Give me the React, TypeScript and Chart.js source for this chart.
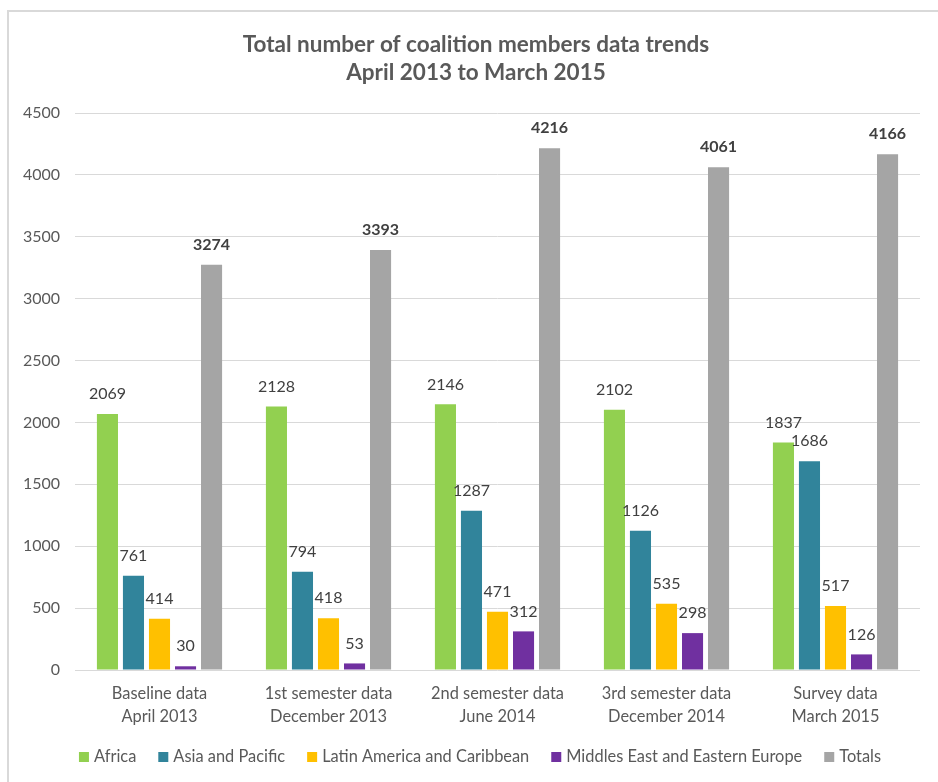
import React, { useEffect, useRef } from "react";
import { Chart, registerables } from "chart.js";

Chart.register(...registerables);

const titleLines = ["Total number of coalition members data trends", "April 2013 to March 2015"];

const categories: string[][] = [
  ["Baseline data", "April 2013"],
  ["1st semester data", "December 2013"],
  ["2nd semester data", "June 2014"],
  ["3rd semester data", "December 2014"],
  ["Survey data", "March 2015"],
];

const africa = [2069, 2128, 2146, 2102, 1837];
const asiaPacific = [761, 794, 1287, 1126, 1686];
const latinAmerica = [414, 418, 471, 535, 517];
const middleEast = [30, 53, 312, 298, 126];
const totals = [3274, 3393, 4216, 4061, 4166];

const seriesNames = [
  "Africa",
  "Asia and Pacific",
  "Latin America and Caribbean",
  "Middles East and Eastern Europe",
  "Totals",
];
const seriesColors = ["#92d050", "#31849b", "#ffc000", "#7030a0", "#a5a5a5"];

const yTicks = { min: 0, max: 4500, step: 500 };

const FONT = "Lato, 'Open Sans', sans-serif";

const valueLabels = {
  id: "valueLabels",
  afterDatasetsDraw(chart: any) {
    const ctx = chart.ctx;
    ctx.save();
    chart.data.datasets.forEach((ds: any, i: number) => {
      const meta = chart.getDatasetMeta(i);
      meta.data.forEach((bar: any, j: number) => {
        ctx.font = (i === 4 ? "bold " : "") + "16px " + FONT;
        ctx.fillStyle = "#404040";
        ctx.textAlign = "center";
        ctx.textBaseline = "middle";
        ctx.fillText(String(ds.data[j]), bar.x, bar.y - 20);
      });
    });
    ctx.restore();
  },
};

const customTitle = {
  id: "customTitle",
  afterDraw(chart: any) {
    const ctx = chart.ctx;
    ctx.save();
    ctx.font = "bold 22.5px " + FONT;
    ctx.fillStyle = "#595959";
    ctx.textAlign = "center";
    ctx.textBaseline = "middle";
    titleLines.forEach((t, i) => ctx.fillText(t, 476, 45 + i * 28));
    ctx.restore();
  },
};

const customLegend = {
  id: "customLegend",
  afterDraw(chart: any) {
    const ctx = chart.ctx;
    ctx.save();
    ctx.font = "16.4px " + FONT;
    const box = 10;
    const gap = 5;
    const spacing = 22;
    const items = chart.data.datasets.map((ds: any) => ({
      label: ds.label,
      color: ds.backgroundColor,
      w: ctx.measureText(ds.label).width,
    }));
    const total =
      items.reduce((s: number, it: any) => s + box + gap + it.w, 0) +
      spacing * (items.length - 1);
    let x = 480 - total / 2;
    const y = chart.height - 25;
    items.forEach((it: any) => {
      ctx.fillStyle = it.color;
      ctx.fillRect(x, y - box / 2, box, box);
      ctx.fillStyle = "#595959";
      ctx.textAlign = "left";
      ctx.textBaseline = "middle";
      ctx.fillText(it.label, x + box + gap, y);
      x += box + gap + it.w + spacing;
    });
    ctx.restore();
  },
};

export default function App() {
  const ref = useRef<HTMLCanvasElement | null>(null);

  useEffect(() => {
    if (!ref.current) return;
    const series = [africa, asiaPacific, latinAmerica, middleEast, totals];
    const chart = new Chart(ref.current, {
      type: "bar",
      data: {
        labels: categories,
        datasets: series.map((d, i) => ({
          label: seriesNames[i],
          data: d,
          backgroundColor: seriesColors[i],
          borderWidth: 0,
          barPercentage: 0.81,
          categoryPercentage: 0.77,
        })),
      },
      options: {
        animation: false,
        responsive: false,
        layout: { padding: { left: 0, right: 18, top: 113, bottom: 52 } },
        plugins: {
          legend: { display: false },
          tooltip: { enabled: false },
          title: { display: false },
        },
        scales: {
          x: {
            grid: { display: false, drawTicks: false },
            border: { display: false },
            ticks: {
              color: "#595959",
              padding: 12,
              font: { family: FONT, size: 16.4, lineHeight: 1.4 },
              maxRotation: 0,
              autoSkip: false,
            },
            afterFit(scale: any) {
              scale.height = 60;
            },
          },
          y: {
            min: yTicks.min,
            max: yTicks.max,
            grid: { color: "#d9d9d9", lineWidth: 1, drawTicks: false },
            border: { display: false },
            ticks: {
              stepSize: yTicks.step,
              color: "#595959",
              padding: 15,
              font: { family: FONT, size: 16 },
              callback: (v: any) => String(v),
            },
            afterFit(scale: any) {
              scale.width = 75;
            },
          },
        },
      },
      plugins: [valueLabels, customTitle, customLegend],
    } as any);
    return () => chart.destroy();
  }, []);

  return (
    <div>
      <div
        style={{
          position: "absolute",
          left: 7,
          top: 10,
          width: 929,
          height: 770,
          borderTop: "2px solid #d9d9d9",
          borderLeft: "2px solid #d9d9d9",
        }}
      />
      <canvas
        ref={ref}
        width={938}
        height={782}
        style={{ position: "absolute", left: 0, top: 0, display: "block" }}
      />
    </div>
  );
}
